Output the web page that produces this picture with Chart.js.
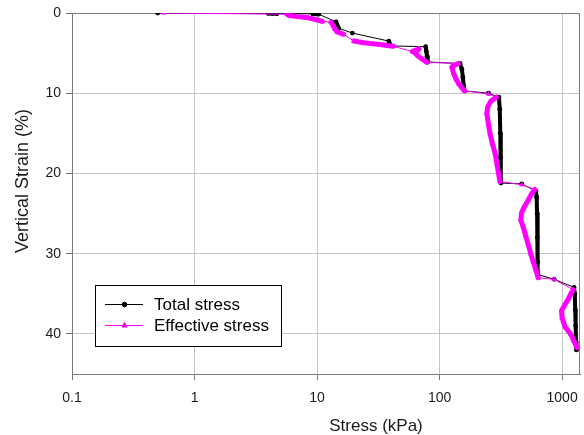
<!DOCTYPE html>
<html>
<head>
<meta charset="utf-8">
<script src="https://cdn.jsdelivr.net/npm/chart.js@4/dist/chart.umd.min.js"></script>
<style>
  html, body { margin: 0; padding: 0; background: #ffffff; }
  #wrap { width: 584px; height: 435px; }
</style>
</head>
<body>
<div id="wrap"><canvas id="chart" width="584" height="435"></canvas></div>
<script>
// Readings grouped by load increment: [stress (kPa), vertical strain (%)]
const totalStressSteps = [
  [[0.5, 0]],
  [[4.0, 0.05], [4.3, 0.06], [4.7, 0.08]],
  [[9.2, 0.1], [9.7, 0.12], [10.3, 0.15]],
  [[14.3, 1.1], [14.6, 1.5], [15.0, 1.9]],
  [[19.4, 2.5]],
  [[38.5, 3.5], [39.0, 3.8], [39.5, 4.1]],
  [[77, 4.2], [78, 4.8], [79, 5.4], [80, 6.1]],
  [[147, 6.3], [152, 7.0], [155, 8.0], [157, 9.0], [160, 9.7]],
  [[251, 10.0]],
  [[305, 10.5], [310, 12.0], [313, 15.0], [315, 18.0], [317, 21.2]],
  [[468, 21.3]],
  [[612, 22.2], [620, 23.0], [625, 25.0], [628, 28.0], [632, 31.0], [635, 32.6]],
  [[861, 33.2]],
  [[1250, 34.2], [1270, 35.0], [1280, 37.0], [1290, 39.0], [1300, 41.0], [1310, 42.0]]
];

const effectiveStressSteps = [
  [[0.56, 0]],
  [[5.7, 0.15], [5.9, 0.3], [7.0, 0.45], [8.5, 0.6], [10.0, 0.85], [11.0, 1.05]],
  [[13.0, 1.15], [13.6, 1.6], [14.0, 2.0], [14.6, 2.35], [16.4, 2.65]],
  [[20.0, 3.5], [24.0, 3.7], [29.0, 3.85], [35.0, 4.0], [42.0, 4.15]],
  [[60, 4.8], [68, 4.45], [63, 5.0], [67, 5.4], [73, 5.8], [79, 6.15]],
  [[142, 6.3], [126, 6.7], [130, 7.5], [136, 8.2], [143, 8.8], [152, 9.3], [160, 9.7]],
  [[251, 10.1]],
  [[290, 10.5], [262, 11.0], [247, 11.7], [243, 12.5], [250, 13.8], [258, 15.0], [270, 16.3],
   [284, 17.5], [294, 18.8], [302, 19.9], [311, 21.0]],
  [[468, 21.4]],
  [[600, 22.0], [560, 22.6], [530, 23.3], [490, 24.2], [467, 24.9], [460, 25.8], [480, 26.6],
   [505, 27.8], [530, 28.9], [555, 30.0], [581, 31.0], [610, 32.0], [638, 33.0]],
  [[861, 33.2]],
  [[1230, 34.5], [1170, 35.1], [1119, 35.7], [1050, 36.4], [990, 37.1], [1000, 38.0], [1057, 39.1],
   [1120, 39.6], [1183, 40.1], [1250, 40.9], [1325, 41.7]]
];

const seriesNames = ['Total stress', 'Effective stress'];
const axisTitles = { x: 'Stress (kPa)', y: 'Vertical Strain (%)' };
const xTickValues = [0.1, 1, 10, 100, 1000];
const yTickValues = [0, 10, 20, 30, 40];

const FONT = "'Liberation Sans', Arial, sans-serif";
const TEXT = '#1a1a1a';
const AXIS = '#7a7a7a';
const GRID = '#c4c4c4';

// Flatten the increments into points and remember which increment each point came from
function flatten(steps) {
  const points = [];
  const stepOf = [];
  steps.forEach((step, s) => step.forEach(([x, y]) => { points.push({ x, y }); stepOf.push(s); }));
  return { points, stepOf };
}
const total = flatten(totalStressSteps);
const effective = flatten(effectiveStressSteps);

// Readings held under one load form a heavy band; the jumps between loads stay thin
function bandWidth(stepOf, thick) {
  return ctx => (stepOf[ctx.p0DataIndex] === stepOf[ctx.p1DataIndex] ? thick : 1);
}

// Plot frame (top and right edges) under the data
const framePlugin = {
  id: 'frame',
  beforeDatasetsDraw(chart) {
    const { ctx, chartArea: a } = chart;
    ctx.save();
    ctx.strokeStyle = AXIS;
    ctx.lineWidth = 1;
    ctx.beginPath();
    ctx.moveTo(Math.round(a.left) - 0.5, Math.round(a.top) + 0.5);
    ctx.lineTo(Math.round(a.right) - 0.5, Math.round(a.top) + 0.5);
    ctx.lineTo(Math.round(a.right) - 0.5, Math.round(a.bottom) + 0.5);
    ctx.stroke();
    ctx.restore();
  }
};

// Axis titles
const axisTitlePlugin = {
  id: 'axisTitles',
  afterDraw(chart) {
    const { ctx } = chart;
    ctx.save();
    ctx.fillStyle = TEXT;
    ctx.textAlign = 'center';
    ctx.textBaseline = 'middle';
    ctx.font = '17px ' + FONT;
    ctx.fillText(axisTitles.x, 376, 426);
    ctx.translate(23, 181);
    ctx.rotate(-Math.PI / 2);
    ctx.font = '18px ' + FONT;
    ctx.fillText(axisTitles.y, 0, 0);
    ctx.restore();
  }
};

// Boxed legend inside the plot, lower left
const boxLegendPlugin = {
  id: 'boxLegend',
  afterDatasetsDraw(chart) {
    const { ctx } = chart;
    const box = { x: 95.5, y: 285.5, w: 186, h: 61 };
    ctx.save();
    ctx.fillStyle = '#ffffff';
    ctx.fillRect(box.x, box.y, box.w, box.h);
    ctx.strokeStyle = '#000000';
    ctx.lineWidth = 1;
    ctx.strokeRect(box.x, box.y, box.w, box.h);
    const rows = [304.5, 325.5];
    chart.data.datasets.forEach((ds, i) => {
      const y = rows[i];
      ctx.strokeStyle = ds.borderColor;
      ctx.lineWidth = 1;
      ctx.beginPath();
      ctx.moveTo(105, y);
      ctx.lineTo(143, y);
      ctx.stroke();
      ctx.fillStyle = ds.borderColor;
      Chart.helpers.drawPoint(ctx, {
        pointStyle: ds.pointStyle, radius: ds.pointStyle === 'triangle' ? 3 : 2.3,
        borderWidth: 1, rotation: 0
      }, 124.5, y);
      ctx.fillStyle = '#000000';
      ctx.font = '17px ' + FONT;
      ctx.textBaseline = 'middle';
      ctx.textAlign = 'left';
      ctx.fillText(ds.label, 154, y + 1);
    });
    ctx.restore();
  }
};

new Chart(document.getElementById('chart'), {
  type: 'line',
  data: {
    datasets: [
      {
        label: seriesNames[0],
        data: total.points,
        borderColor: '#000000',
        backgroundColor: '#000000',
        borderWidth: 1,
        pointStyle: 'circle',
        pointRadius: 2.4,
        pointBorderWidth: 0,
        borderJoinStyle: 'round',
        borderCapStyle: 'round',
        segment: { borderWidth: bandWidth(total.stepOf, 4) },
        order: 1
      },
      {
        label: seriesNames[1],
        data: effective.points,
        borderColor: '#ff00ff',
        backgroundColor: '#ff00ff',
        borderWidth: 1,
        pointStyle: 'triangle',
        pointRadius: 3.2,
        pointBorderWidth: 0,
        borderJoinStyle: 'round',
        borderCapStyle: 'round',
        segment: { borderWidth: bandWidth(effective.stepOf, 5) },
        order: 0
      }
    ]
  },
  options: {
    responsive: false,
    animation: false,
    devicePixelRatio: 1,
    layout: { padding: { top: 13, right: 2, left: 0, bottom: 0 } },
    plugins: { legend: { display: false }, tooltip: { enabled: false } },
    elements: { line: { tension: 0 } },
    scales: {
      x: {
        type: 'logarithmic',
        min: 0.1,
        max: 1400,
        afterBuildTicks: s => { s.ticks = xTickValues.map(v => ({ value: v })); },
        afterFit: s => { s.height = 61; s.paddingLeft = 0; s.paddingRight = 0; },
        ticks: {
          autoSkip: false, maxRotation: 0, padding: 10,
          color: TEXT, font: { family: FONT, size: 14 },
          callback: v => String(v)
        },
        grid: { color: GRID, lineWidth: 1, drawTicks: true, tickLength: 6, tickColor: AXIS },
        border: { display: true, color: AXIS, width: 1 },
        title: { display: false }
      },
      y: {
        type: 'linear',
        reverse: true,
        min: 0,
        max: 45,
        afterBuildTicks: s => { s.ticks = yTickValues.map(v => ({ value: v })); },
        afterFit: s => { s.width = 72; s.paddingTop = 0; s.paddingBottom = 0; },
        ticks: {
          padding: 5, color: TEXT, font: { family: FONT, size: 14 },
          callback: v => String(v)
        },
        grid: { color: GRID, lineWidth: 1, drawTicks: true, tickLength: 6, tickColor: AXIS },
        border: { display: true, color: AXIS, width: 1 },
        title: { display: false }
      }
    }
  },
  plugins: [framePlugin, axisTitlePlugin, boxLegendPlugin]
});
</script>
</body>
</html>
